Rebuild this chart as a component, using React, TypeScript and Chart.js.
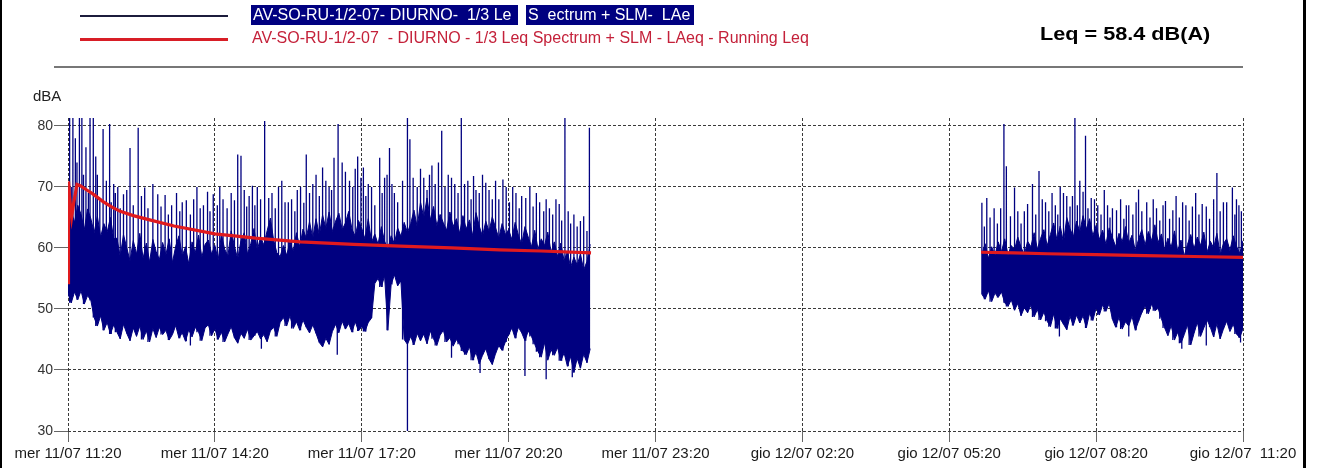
import React, { useEffect, useRef } from "react";
import { Chart, registerables } from "chart.js";

Chart.register(...registerables);

// ---------- DATA ----------
const xTickMinutes = [0, 180, 360, 540, 720, 900, 1080, 1260, 1440];
const xTickLabels = [
  "mer 11/07 11:20",
  "mer 11/07 14:20",
  "mer 11/07 17:20",
  "mer 11/07 20:20",
  "mer 11/07 23:20",
  "gio 12/07 02:20",
  "gio 12/07 05:20",
  "gio 12/07 08:20",
  "gio 12/07  11:20",
];
const yTicks = [30, 40, 50, 60, 70, 80];

// minutes after 11:20, sampled every 4 minutes
const STEP_MIN = 4;
const seg1Start = 0;
const seg2Start = 1120;

// segment 1 (11:20 – ~22:00): lower envelope of LAeq samples
const seg1Low = [
  52.5, 51.0, 52.8, 51.5, 53.0, 50.8, 52.2, 51.4, 48.6, 47.2, 48.9, 46.5, 47.8, 45.9, 47.4,
  46.2, 45.1, 47.5, 46.0, 44.8, 46.9, 45.5, 47.2, 45.0, 46.4, 44.6, 46.8, 45.3, 47.0, 45.8,
  46.5, 44.9, 45.8, 47.3, 45.2, 46.1, 44.7, 46.6, 45.4, 47.0, 46.2, 44.8, 46.9, 47.4, 45.6,
  46.8, 45.0, 46.2, 44.6, 45.9, 47.1, 45.3, 44.4, 46.0, 45.2, 46.7, 44.9, 45.6, 46.3, 45.1,
  45.8, 44.6, 46.4, 47.0, 45.5, 47.8, 48.6, 47.2, 48.9, 46.8, 47.9, 46.5, 48.2, 47.0, 46.1,
  47.4, 46.0, 44.5, 43.8, 45.2, 44.2, 46.3, 47.5, 46.1, 48.0, 46.7, 47.6, 46.2, 47.9, 46.4,
  47.1, 46.3, 47.8, 48.5, 54.2, 55.0, 53.6, 55.4, 46.5, 54.0, 55.6, 53.8, 54.6, 45.0, 44.2,
  45.5, 44.1, 46.0, 44.8, 45.9, 44.3, 46.4, 45.1, 44.0, 45.7, 46.5, 44.6, 45.3, 43.9, 45.0,
  44.2, 43.1, 42.5, 43.8, 41.6, 42.9, 41.0, 42.4, 43.5, 41.8, 40.9, 42.7, 44.0, 43.2, 44.6,
  45.8, 46.9, 45.2, 47.0, 46.1, 44.8, 46.4, 45.5, 44.2, 43.0, 42.1, 44.5, 41.6, 43.3, 42.4,
  43.7, 41.5, 42.8, 40.6, 42.2, 39.6, 41.9, 40.3, 42.6, 41.2, 43.5,
];
// segment 1: upper envelope of the dense part
const seg1High = [
  63.5, 66.0, 64.2, 67.0, 65.5, 63.0, 66.4, 64.8, 62.5, 65.2, 61.8, 64.0, 62.6, 65.0, 61.5,
  61.6, 58.6, 62.2, 60.0, 57.9, 61.2, 59.0, 62.4, 58.3, 60.8, 57.7, 61.4, 59.4, 58.1, 60.9,
  58.9, 61.5, 57.6, 60.3, 62.0, 58.7, 60.2, 57.4, 61.0, 59.2, 62.1, 58.5, 60.6, 61.3, 59.0,
  60.4, 58.0, 62.2, 59.8, 58.7, 62.8, 60.3, 58.2, 61.2, 62.5, 59.0, 60.7, 63.2, 59.6, 61.8,
  60.5, 62.8, 64.9, 61.3, 59.2, 58.6, 60.4, 58.8, 61.0, 59.5, 62.5, 60.2, 63.1, 61.6, 64.3,
  61.6, 64.8, 62.1, 65.4, 63.2, 65.9, 62.7, 64.4, 65.7, 63.0, 64.1, 66.0, 63.1, 61.9, 64.5,
  63.2, 61.5, 64.8, 60.9, 62.3, 60.6, 63.5, 61.1, 59.8, 62.0, 60.7, 63.3, 61.9, 64.2, 62.5,
  64.0, 66.2, 63.4, 67.5, 65.0, 68.2, 64.6, 66.8, 63.7, 65.5, 64.1, 62.9, 65.9, 63.5, 64.8,
  62.4, 65.3, 63.1, 64.6, 62.0, 65.8, 63.6, 61.9, 64.4, 62.7, 65.1, 63.3, 61.6, 64.0, 62.2,
  63.0, 61.4, 64.2, 62.1, 60.6, 63.5, 61.8, 60.2, 62.9, 59.8, 61.5, 60.4, 62.6, 59.3, 61.0,
  58.6, 60.8, 57.9, 59.4, 56.8, 58.5, 57.2, 59.0, 56.4, 57.8, 60.6,
];

// segment 2 (~06:00 – 11:20)
const seg2Low = [
  52.4, 51.6, 53.0, 51.2, 52.6, 51.9, 52.8, 51.0, 50.4, 51.5, 49.8, 50.9, 48.9, 50.2, 49.4,
  50.6, 48.7, 49.9, 48.2, 49.5, 48.0, 47.1, 49.2, 46.8, 48.4, 47.5, 46.6, 48.8, 47.3, 49.0,
  47.7, 48.9, 46.9, 49.3, 48.1, 50.2, 49.0, 50.7, 49.6, 50.9, 48.3, 47.0, 48.6, 46.7, 47.9,
  47.2, 48.8, 46.5, 48.0, 49.4, 50.5, 49.2, 50.8, 49.7, 50.1, 48.4, 46.9, 45.6, 47.3, 44.9,
  46.2, 44.4, 45.8, 47.4, 44.1, 46.0, 47.8, 45.5, 46.9, 48.2, 47.0, 45.4, 47.6, 45.1, 46.7,
  48.0, 46.3, 47.5, 45.9, 45.3, 46.8,
];
const seg2High = [
  59.0, 60.7, 58.3, 60.2, 58.8, 61.0, 59.4, 61.5, 58.9, 60.4, 59.7, 61.8, 60.1, 58.9, 61.1,
  60.2, 62.5, 59.8, 61.6, 63.0, 60.4, 62.2, 64.1, 61.3, 63.6, 60.9, 65.0, 63.2, 61.8, 64.4,
  62.6, 65.3, 63.1, 64.8, 62.0, 63.7, 61.4, 62.9, 60.6, 63.3, 61.7, 60.2, 62.4, 61.0, 63.5,
  60.8, 62.1, 59.6, 61.4, 63.0, 60.5, 62.7, 61.2, 63.8, 60.9, 62.3, 59.7, 61.6, 60.1, 62.8,
  59.5, 61.3, 58.7, 60.6, 62.2, 59.9, 61.8, 60.4, 62.6, 59.3, 61.1, 60.0, 62.4, 58.9, 60.7,
  61.5, 59.6, 62.0, 60.3, 59.1, 61.2,
];

// tall isolated peaks (minute, dB)
const spikeT = [
  2, 6, 9, 14, 17, 22, 27, 31, 36, 43, 51, 56, 61, 68, 76, 86, 94, 110, 127, 140,
  158, 166, 178, 190, 200, 208, 212, 222, 232, 241, 246, 258, 270, 281, 292, 300, 312, 320, 326, 331,
  336, 345, 355, 362, 368, 376, 382, 388, 394, 400, 419, 428, 436, 446, 458, 466, 474, 482, 490, 500,
  512, 520, 533, 545, 556, 566, 578, 590, 598, 609, 620, 628, 639,
  1120, 1126, 1135, 1147, 1150, 1160, 1172, 1182, 1190, 1198, 1206, 1216, 1224, 1234, 1240, 1247,
  1254, 1262, 1270, 1280, 1290, 1300, 1312, 1322, 1330, 1345, 1358, 1370, 1382, 1395, 1408, 1416,
  1427, 1432, 1438,
];
const spikeHi = [
  81.5, 81.5, 78.0, 81.5, 81.5, 76.5, 81.5, 81.5, 72.0, 79.5, 80.3, 70.5, 70.0, 68.8, 76.4, 79.7, 69.9, 68.8, 67.0, 67.5,
  70.0, 67.0, 68.8, 68.0, 69.0, 75.3, 75.1, 68.5, 70.0, 80.8, 68.2, 70.0, 67.5, 69.5, 75.3, 70.5, 73.2, 70.0, 74.8, 80.3,
  74.0, 71.0, 75.0, 73.2, 70.5, 67.0, 74.8, 71.5, 76.4, 69.0, 77.8, 70.0, 71.5, 73.5, 79.2, 72.0, 70.5, 81.5, 71.0, 69.5,
  70.7, 68.0, 71.2, 70.0, 68.5, 70.0, 67.5, 66.5, 68.0, 81.5, 65.5, 64.4, 79.7,
  67.4, 68.2, 66.5, 80.3, 73.4, 69.9, 66.0, 70.5, 72.6, 67.5, 69.0, 70.0, 68.5, 81.5, 71.0, 78.4,
  68.2, 67.0, 69.5, 66.5, 68.0, 67.0, 69.6, 67.5, 68.0, 67.7, 68.5, 67.0, 69.0, 66.8, 72.3, 67.5,
  69.9, 68.0, 66.0,
];

// medium peaks above the dense part (minute, dB)
const midSpikeT = [
  4, 11, 19, 25, 34, 39, 47, 53, 58, 64, 72, 80, 90, 98, 104, 114, 119, 123, 133, 137,
  145, 150, 154, 162, 171, 174, 183, 186, 195, 204, 216, 219, 226, 229, 236, 250, 254, 262, 266, 274,
  278, 285, 289, 296, 304, 308, 316, 323, 340, 349, 352, 359, 365, 372, 385, 391, 397, 404, 410, 423,
  432, 440, 443, 450, 454, 462, 470, 478, 486, 494, 497, 504, 508, 516, 524, 528, 537, 541, 549, 553,
  561, 570, 574, 583, 586, 594, 602, 605, 613, 616, 624, 632, 636,
  1123, 1130, 1139, 1143, 1155, 1164, 1168, 1176, 1186, 1194, 1202, 1210, 1213, 1220, 1228, 1231,
  1237, 1244, 1250, 1258, 1266, 1274, 1277, 1285, 1294, 1297, 1305, 1309, 1316, 1326, 1334, 1338,
  1342, 1350, 1354, 1362, 1366, 1374, 1378, 1386, 1390, 1399, 1404, 1412, 1420, 1430, 1435,
];
const midSpikeHi = [
  70.0, 74.0, 72.0, 69.0, 75.0, 68.0, 71.0, 67.5, 69.0, 66.5, 69.5, 67.0, 68.5, 66.5, 70.5, 66.8, 68.7, 65.5, 69.0, 66.0,
  67.8, 65.5, 68.0, 66.5, 69.2, 66.0, 67.0, 70.0, 66.5, 67.8, 69.5, 66.8, 70.2, 67.0, 68.0, 69.0, 66.5, 71.0, 67.5, 68.0,
  66.0, 70.0, 67.4, 69.0, 72.0, 68.5, 71.0, 69.5, 72.5, 70.0, 73.0, 71.5, 68.5, 70.0, 69.0, 72.0, 70.5, 67.5, 71.0, 71.5,
  73.0, 69.5, 72.0, 70.5, 74.0, 70.0, 71.5, 69.0, 70.5, 68.0, 71.8, 69.0, 72.0, 69.5, 71.0, 68.0, 70.0, 67.5, 69.0, 66.5,
  68.2, 66.8, 69.0, 66.0, 68.0, 65.5, 67.2, 64.5, 66.0, 64.0, 63.5, 65.2, 62.8,
  63.5, 65.0, 64.0, 66.5, 65.2, 66.0, 64.0, 67.2, 65.5, 68.0, 66.0, 67.0, 65.5, 69.0, 66.8, 68.5,
  67.0, 69.2, 66.5, 68.0, 65.5, 67.0, 65.0, 66.2, 64.8, 67.0, 65.5, 67.5, 66.0, 65.0, 66.5, 64.5,
  67.0, 64.8, 66.2, 65.0, 67.5, 64.5, 66.8, 65.5, 67.2, 64.8, 68.0, 66.0, 67.5, 65.5, 67.0,
];

// downward strokes below the dense part (minute, bottom dB, top dB)
const dropT = [416, 150, 237, 330, 470, 505, 560, 586, 618, 1215, 1300, 1365, 1395, 1437];
const dropLo = [30, 44.0, 43.5, 42.5, 42.0, 39.5, 39.0, 38.5, 38.8, 45.5, 45.5, 43.5, 44.0, 44.5];
const dropHi = [81.5, 52, 52, 52, 52, 52, 52, 52, 52, 54, 54, 54, 54, 54];

// Running Leq
const run1T = [0, 0.6, 2, 4.5, 7, 11, 15, 23, 30, 43, 55, 64, 80, 100, 130, 180, 230, 285, 350, 407, 470, 529, 580, 641];
const run1V = [54.3, 70.9, 68.3, 65.1, 67.4, 70.4, 70.2, 69.5, 68.9, 67.6, 66.6, 66.0, 65.3, 64.6, 63.6, 62.3, 61.6, 61.0, 60.6, 60.3, 60.0, 59.7, 59.5, 59.2];
const run2T = [1119, 1160, 1200, 1260, 1320, 1380, 1440];
const run2V = [59.3, 59.2, 59.05, 58.9, 58.75, 58.6, 58.45];

const legendBlue1 = "AV-SO-RU-1/2-07- DIURNO-  1/3 Le";
const legendBlue2 = "S  ectrum + SLM-  LAe";
const legendRed = "AV-SO-RU-1/2-07  - DIURNO - 1/3 Leq Spectrum + SLM - LAeq - Running Leq";
const leqText = "Leq = 58.4 dB(A)";
const yTitle = "dBA";

// ---------- STYLE ----------
const W = 1319;
const H = 468;
const FONT = "'Liberation Sans', Arial, Helvetica, sans-serif";
const NAVY = "#000080";
const RED = "#e01a1e";

function toPts(start: number, arr: number[]) {
  return arr.map((v, i) => ({ x: start + i * STEP_MIN, y: v }));
}

function baseAt(t: number) {
  if (t >= seg2Start) {
    const i = Math.min(seg2Low.length - 1, Math.max(0, Math.round((t - seg2Start) / STEP_MIN)));
    return seg2Low[i];
  }
  const i = Math.min(seg1Low.length - 1, Math.max(0, Math.round((t - seg1Start) / STEP_MIN)));
  return seg1Low[i];
}

export default function App() {
  const ref = useRef<HTMLCanvasElement | null>(null);

  useEffect(() => {
    if (!ref.current) return;

    const spikePts: any[] = [];
    const addStroke = (t: number, lo: number, hi: number) => {
      spikePts.push({ x: t, y: lo });
      spikePts.push({ x: t, y: hi });
      spikePts.push({ x: t, y: null });
    };
    spikeT.forEach((t, i) => addStroke(t, baseAt(t), spikeHi[i]));
    midSpikeT.forEach((t, i) => addStroke(t, baseAt(t), midSpikeHi[i]));
    dropT.forEach((t, i) => addStroke(t, dropLo[i], dropHi[i]));

    const runPts: any[] = [
      ...run1T.map((t, i) => ({ x: t, y: run1V[i] })),
      { x: (run1T[run1T.length - 1] + run2T[0]) / 2, y: null },
      ...run2T.map((t, i) => ({ x: t, y: run2V[i] })),
    ];

    const bandLine = {
      borderColor: NAVY,
      borderWidth: 1,
      pointRadius: 0,
      tension: 0,
      order: 1,
    };

    const chart = new Chart(ref.current, {
      type: "line",
      data: {
        datasets: [
          { ...bandLine, label: "l1", data: toPts(seg1Start, seg1Low), fill: false },
          { ...bandLine, label: "h1", data: toPts(seg1Start, seg1High), fill: "-1", backgroundColor: NAVY },
          { ...bandLine, label: "l2", data: toPts(seg2Start, seg2Low), fill: false },
          { ...bandLine, label: "h2", data: toPts(seg2Start, seg2High), fill: "-1", backgroundColor: NAVY },
          {
            label: "spikes",
            data: spikePts,
            borderColor: NAVY,
            borderWidth: 1.3,
            pointRadius: 0,
            spanGaps: false,
            fill: false,
            order: 1,
          },
          {
            label: "run",
            data: runPts,
            borderColor: RED,
            borderWidth: 3.2,
            pointRadius: 0,
            tension: 0,
            spanGaps: false,
            fill: false,
            order: -1,
          },
        ] as any,
      },
      options: {
        animation: false,
        responsive: false,
        devicePixelRatio: 1,
        parsing: false as any,
        events: [],
        layout: { padding: { left: 0, right: W - 1243, top: 118, bottom: 0 } },
        plugins: {
          legend: { display: false },
          tooltip: { enabled: false },
          title: { display: false },
        },
        scales: {
          x: {
            type: "linear",
            min: 0,
            max: 1440,
            afterBuildTicks: (s: any) => {
              s.ticks = xTickMinutes.map((v) => ({ value: v }));
            },
            afterFit: (s: any) => {
              s.height = H - 431;
            },
            ticks: {
              autoSkip: false,
              maxRotation: 0,
              minRotation: 0,
              padding: 3,
              color: "#1a1a1a",
              font: { family: FONT, size: 15 },
              callback: (_v: any, i: number) => xTickLabels[i],
            },
            grid: {
              color: "#3a3a3a",
              lineWidth: 1,
              tickLength: 11,
              tickColor: "#666",
              tickWidth: 1,
            },
            border: { display: false, dash: [3, 2] },
          },
          y: {
            type: "linear",
            min: 30,
            max: 81.3,
            afterBuildTicks: (s: any) => {
              s.ticks = yTicks.map((v) => ({ value: v }));
            },
            afterFit: (s: any) => {
              s.width = 68;
            },
            ticks: {
              padding: 1,
              color: "#333",
              font: { family: FONT, size: 14 },
              callback: (v: any) => String(v),
            },
            grid: {
              color: "#3a3a3a",
              lineWidth: 1,
              tickLength: 14,
              tickColor: "#666",
              tickWidth: 1,
            },
            border: { display: false, dash: [3, 2] },
          },
        },
      } as any,
    });
    return () => chart.destroy();
  }, []);

  const abs = (s: React.CSSProperties): React.CSSProperties => ({ position: "absolute", ...s });

  return (
    <div
      style={{
        position: "absolute",
        left: 0,
        top: 0,
        width: W,
        height: H,
        background: "#fff",
        overflow: "hidden",
        fontFamily: FONT,
      }}
    >
      <canvas ref={ref} width={W} height={H} style={abs({ left: 0, top: 0, width: W, height: H })} />
      {/* legend lines */}
      <div style={abs({ left: 80, top: 15, width: 148, height: 1.5, background: "#1c1c3c" })} />
      <div style={abs({ left: 80, top: 38, width: 148, height: 3, background: "#d81e26" })} />
      {/* legend texts */}
      <div
        style={abs({
          left: 251, top: 5, width: 267, height: 20, background: NAVY, color: "#fff",
          fontSize: 16, lineHeight: "20px", whiteSpace: "pre", paddingLeft: 2, boxSizing: "border-box",
        })}
      >
        {legendBlue1}
      </div>
      <div
        style={abs({
          left: 526, top: 5, width: 168, height: 20, background: NAVY, color: "#fff",
          fontSize: 16, lineHeight: "20px", whiteSpace: "pre", paddingLeft: 2, boxSizing: "border-box",
        })}
      >
        {legendBlue2}
      </div>
      <div style={abs({ left: 252, top: 28, color: "#c4213a", fontSize: 16, lineHeight: "20px", whiteSpace: "pre" })}>
        {legendRed}
      </div>
      <div
        style={abs({
          left: 1040, top: 23, color: "#000", fontSize: 19, fontWeight: "bold", lineHeight: "22px",
          whiteSpace: "pre", transform: "scaleX(1.14)", transformOrigin: "0 50%",
        })}
      >
        {leqText}
      </div>
      {/* separator */}
      <div style={abs({ left: 54, top: 66, width: 1189, height: 2, background: "#777" })} />
      {/* y title */}
      <div style={abs({ left: 33, top: 87, color: "#222", fontSize: 15, lineHeight: "18px" })}>{yTitle}</div>
      {/* page borders */}
      <div style={abs({ left: 0, top: 0, width: 2, height: H, background: "#000" })} />
      <div style={abs({ left: 1303, top: 0, width: 3, height: H, background: "#000" })} />
    </div>
  );
}
